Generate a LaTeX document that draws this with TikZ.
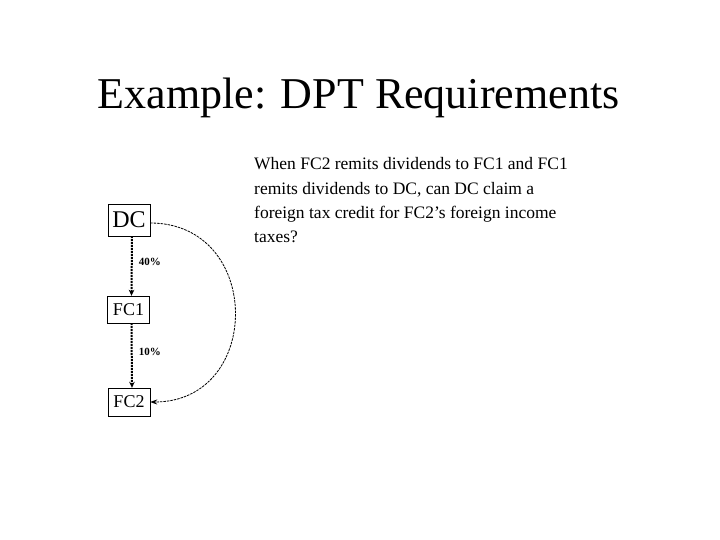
\documentclass[tikz,border=0pt]{standalone}
\usepackage{fontspec}
\setmainfont{Liberation Serif}
\usetikzlibrary{positioning,arrows.meta}

\begin{document}
\begin{tikzpicture}[
  x=1pt, y=-1pt,
  firm/.style={draw, thin, inner sep=0pt, minimum width=42pt},
  arrow/.style={-{Stealth[length=6pt, width=5.5pt]}, line width=2pt, densely dotted},
  dasharrow/.style={-{Stealth[length=7pt, width=5pt]}, line width=0.8pt, dash pattern=on 2.5pt off 1pt},
  pct/.style={font=\fontsize{11}{11}\selectfont\bfseries, inner sep=0pt}
]
\useasboundingbox (0,0) rectangle (720,540);

%% ── Title ────────────────────────────────────────────────────────────
\node[anchor=base, font=\fontsize{44}{44}\selectfont] (title) at (358.5,109)
    {Example: DPT Requirements};

%% ── Firms ────────────────────────────────────────────────────────────
\node[firm, minimum height=32pt, font=\fontsize{24}{24}\selectfont] (DC) at (129,220) {DC};
\node[firm, minimum height=27pt, font=\fontsize{18}{18}\selectfont] (FC1) at (128.5,309.5) {FC1};
\node[firm, minimum height=28pt, font=\fontsize{18}{18}\selectfont] (FC2) at (129,402) {FC2};

%% ── Ownership chain (dotted) ─────────────────────────────────────────
\draw[arrow] ([xshift=3pt]DC.south) -- ([xshift=3pt]FC1.north)
    node[pct, midway, right=6pt, yshift=4pt] (own1) {40\%};
\draw[arrow] ([xshift=3pt]FC1.south) -- ([xshift=3pt]FC2.north)
    node[pct, midway, right=6pt, yshift=4pt] (own2) {10\%};

%% ── Credit loop DC -> FC2 ────────────────────────────────────────────
\draw[dasharrow] ([yshift=-3pt]DC.east) .. controls +(113,0) and +(113,0) .. (FC2.east);

%% ── Question ─────────────────────────────────────────────────────────
\node[anchor=north west, align=left, inner sep=0pt,
      font=\fontsize{17.5}{24.2}\selectfont] (question) at (254,157.5)
    {When FC2 remits dividends to FC1 and FC1\\
     remits dividends to DC, can DC claim a\\
     foreign tax credit for FC2's foreign income\\
     taxes?};

\end{tikzpicture}
\end{document}
